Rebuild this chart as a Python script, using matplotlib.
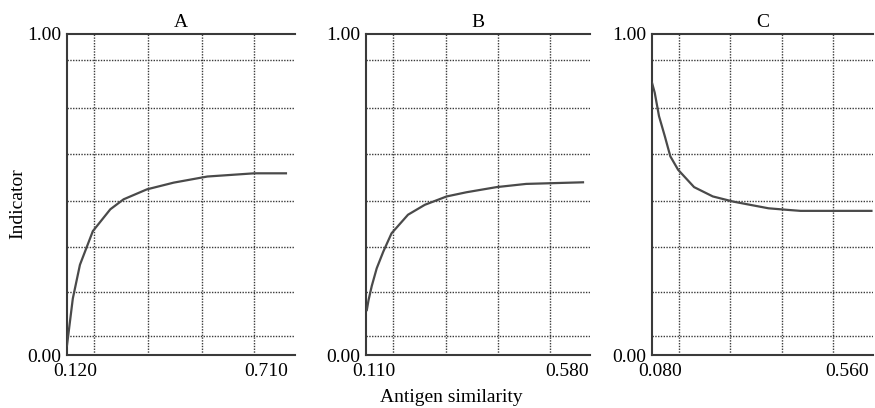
import matplotlib
matplotlib.use("Agg")
import matplotlib.pyplot as plt
import matplotlib.transforms as mtransforms

plt.rcParams['font.family'] = ['Liberation Serif', 'DejaVu Serif']
plt.rcParams['font.size'] = 14

# donnees
titres = ["A", "B", "C"]

x_a = [0.120, 0.138, 0.160, 0.200, 0.254, 0.295, 0.367, 0.450, 0.554, 0.699, 0.797]
y_a = [0.030, 0.176, 0.281, 0.386, 0.454, 0.485, 0.516, 0.537, 0.556, 0.566, 0.566]

x_b = [0.112, 0.116, 0.124, 0.136, 0.152, 0.172, 0.212, 0.253, 0.306, 0.354, 0.427, 0.499, 0.637]
y_b = [0.140, 0.170, 0.215, 0.270, 0.322, 0.379, 0.437, 0.468, 0.494, 0.507, 0.523, 0.533, 0.538]

x_c = [0.080, 0.087, 0.098, 0.113, 0.127, 0.147, 0.188, 0.236, 0.288, 0.331, 0.379, 0.429, 0.461, 0.643]
y_c = [0.848, 0.817, 0.744, 0.681, 0.619, 0.577, 0.523, 0.494, 0.478, 0.468, 0.457, 0.452, 0.449, 0.449]

ticks_x = [[0.120, 0.710], [0.110, 0.580], [0.080, 0.560]]
limites_x = [(0.120, 0.825), (0.110, 0.654), (0.080, 0.647)]

# position des axes en pixels (gauche, droite)
pos_px = [(67, 295), (366, 590), (652, 873)]
haut_px, bas_px = 34, 355

grille_x = [0.12, 0.355, 0.59, 0.82]
grille_y = [0.06, 0.195, 0.335, 0.48, 0.625, 0.77, 0.92]

W, H = 875, 408
fig = plt.figure(figsize=(W / 100, H / 100), dpi=100)

series = [(x_a, y_a), (x_b, y_b), (x_c, y_c)]
gris = "#3a3a3a"

for i in range(3):
    g, d = pos_px[i]
    ax = fig.add_axes([g / W, (H - bas_px) / H, (d - g) / W, (bas_px - haut_px) / H])
    x, y = series[i]

    for f in grille_x:
        ax.plot([f, f], [0, 1], transform=ax.transAxes, color=gris, lw=1,
                linestyle=(0, (1, 1)), zorder=1)
    for f in grille_y:
        ax.plot([0, 1], [f, f], transform=ax.transAxes, color=gris, lw=1,
                linestyle=(0, (1, 1)), zorder=1)

    ax.plot(x, y, color="#4a4a4a", lw=1.6, zorder=3)

    ax.set_xlim(*limites_x[i])
    ax.set_ylim(0, 1)
    ax.set_xticks(ticks_x[i])
    ax.set_xticklabels(["%.3f" % v for v in ticks_x[i]])
    ax.set_yticks([0, 1])
    ax.set_yticklabels(["0.00", "1.00"])
    ax.tick_params(axis="x", length=0, pad=6)
    ax.tick_params(axis="y", length=0, pad=4)

    decal = mtransforms.ScaledTranslation(8 / 100, 0, fig.dpi_scale_trans)
    for lab in ax.get_xticklabels():
        lab.set_transform(lab.get_transform() + decal)

    for cote in ["left", "top", "bottom"]:
        ax.spines[cote].set_color(gris)
        ax.spines[cote].set_linewidth(1.5)
    ax.spines["right"].set_visible(False)

    ax.set_title(titres[i], fontsize=14, pad=5)

fig.text(451 / W, 1 - 398 / H, "Antigen similarity", ha="center", va="center", fontsize=14)
fig.text(18 / W, 1 - 204 / H, "Indicator", ha="center", va="center", rotation=90, fontsize=14)

fig.savefig("out.png", dpi=100)
